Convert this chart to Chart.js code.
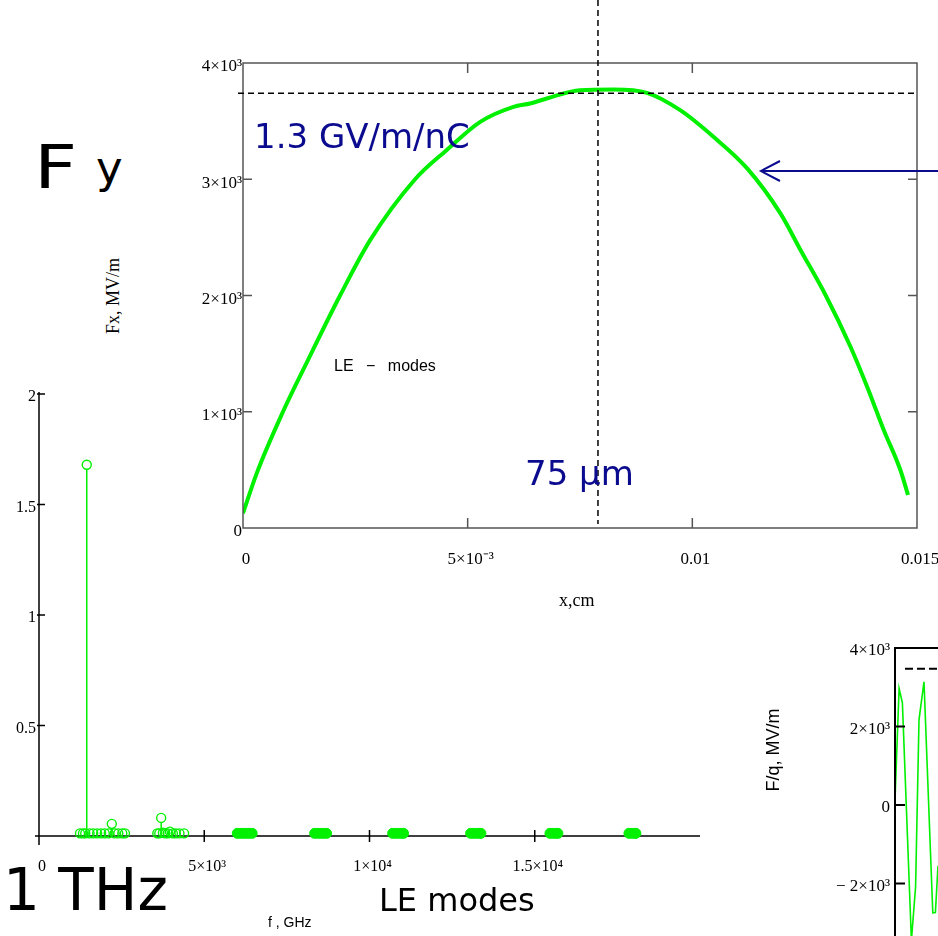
<!DOCTYPE html>
<html lang="en">
<head>
    <meta charset="UTF-8">
    <title>Fy wake, LE modes</title>
    <script src="https://cdn.jsdelivr.net/npm/chart.js"></script>
    <style>
        html, body { margin: 0; padding: 0; background: #fff; }
        body { width: 938px; height: 936px; position: relative; overflow: hidden; }
        canvas { position: absolute; }
        .t { position: absolute; white-space: nowrap; line-height: 1; }
        .navy { color: #0b0b8f; font-family: "DejaVu Sans"; font-size: 34px; }
        .big { font-family: "DejaVu Sans"; color: #000; }
        .serif { font-family: "Liberation Serif"; color: #000; }
        .sans { font-family: "Liberation Sans"; color: #000; }
    </style>
</head>
<body>
    <canvas id="modesChart" style="left:0;top:380px"></canvas>
    <canvas id="mainChart" style="left:180px;top:0"></canvas>
    <canvas id="wakeChart" style="left:760px;top:630px"></canvas>

    <div class="t big" style="left:34px;top:137px;font-size:60px;transform:scaleX(1.25);transform-origin:0 0">F</div>
    <div class="t big" style="left:96px;top:145px;font-size:45px">y</div>
    <div class="t navy" style="left:254px;top:119px">1.3 GV/m/nC</div>
    <div class="t navy" style="left:525px;top:456px">75 µm</div>
    <div class="t sans" style="left:334px;top:358px;font-size:16px;word-spacing:8px">LE − modes</div>
    <div class="t serif" style="left:113px;top:296px;font-size:18px;transform:translate(-50%,-50%) rotate(-90deg)">Fx, MV/m</div>
    <div class="t serif" style="left:559px;top:591px;font-size:18px">x,cm</div>
    <div class="t big" style="left:3px;top:861px;font-size:58px">1 THz</div>
    <div class="t big" style="left:379px;top:884px;font-size:32px">LE modes</div>
    <div class="t sans" style="left:268px;top:915px;font-size:14px">f , GHz</div>
    <div class="t sans" style="left:773px;top:750px;font-size:18px;transform:translate(-50%,-50%) rotate(-90deg)">F/q, MV/m</div>

    <svg style="position:absolute;left:0;top:0" width="938" height="936">
        <g stroke="#0b0b8f" stroke-width="2" fill="none">
            <line x1="940" y1="171" x2="761" y2="171"/>
            <polyline points="780,161 761,171 780,181"/>
        </g>
    </svg>

    <script>
        // ---- main plot: Fx across the gap ----
        var xCm = [0, 0.000305, 0.00089, 0.00141, 0.00216, 0.00283, 0.00383, 0.00453, 0.00528, 0.00602,
                   0.00639, 0.00676, 0.0075, 0.00825, 0.00899, 0.00973, 0.01047, 0.01122, 0.01196, 0.01241,
                   0.01297, 0.01352, 0.01389, 0.0141, 0.01426, 0.01463, 0.0148];
        var fxMV = [126, 470, 1000, 1416, 2000, 2476, 3000, 3250, 3494, 3623,
                    3652, 3695, 3766, 3772, 3743, 3594, 3365, 3093, 2706, 2390,
                    2000, 1559, 1215, 1004, 843, 499, 284];
        var peakLevel = 3740;
        var peakX = 0.0079;
        var mainXTicks = ['0', '5×10⁻³', '0.01', '0.015'];
        var mainYTicks = ['0', '1×10³', '2×10³', '3×10³', '4×10³'];

        // ---- lower left: LE mode spectrum ----
        var stemF = [1445, 2203, 3697];
        var stemA = [1.68, 0.055, 0.082];
        var lowF = [1240, 1330, 1400, 1530, 1640, 1760, 1880, 1990, 2110, 2290, 2400, 2520, 2600,
                    3580, 3640, 3750, 3820, 3900, 3960, 4050, 4140, 4250, 4390];
        var lowA = [0.012, 0.012, 0.012, 0.012, 0.012, 0.012, 0.012, 0.012, 0.012, 0.012, 0.012, 0.012, 0.012,
                    0.012, 0.012, 0.015, 0.012, 0.012, 0.02, 0.012, 0.012, 0.012, 0.012];
        var denseF = [6000, 6090, 6180, 6270, 6360, 6450, 8340, 8430, 8520, 8610, 8700,
                      10700, 10790, 10880, 10970, 11030, 13060, 13150, 13240, 13330, 13370,
                      15460, 15550, 15640, 15700, 17850, 17940, 18030, 18060];
        var denseA = [0.012, 0.012, 0.012, 0.012, 0.012, 0.012, 0.012, 0.012, 0.012, 0.012, 0.012,
                      0.012, 0.012, 0.012, 0.012, 0.012, 0.012, 0.012, 0.012, 0.012, 0.012,
                      0.012, 0.012, 0.012, 0.012, 0.012, 0.012, 0.012, 0.012];
        var modesXTicks = ['0', '5×10³', '1×10⁴', '1.5×10⁴', ''];
        var modesYTicks = ['', '0.5', '1', '1.5', '2'];

        // ---- lower right: wake F/q ----
        var wakeX = [0, 0.82, 1.48, 3.28, 4.12, 4.8, 5.8, 7.56, 8.08, 8.6];
        var wakeF = [120, 2970, 2600, -3450, -2080, 2170, 3140, -2750, -2740, -1550];
        var wakeLevel = 3470;
        var wakeYTicks = ['', '− 2×10³', '0', '2×10³', '4×10³'];

        var GREEN = 'rgb(0,240,0)';
        var serif = 'Liberation Serif';

        function pts(xs, ys) {
            return xs.map(function (x, i) { return { x: x, y: ys[i] }; });
        }

        function sizeCanvas(id, w, h) {
            var c = document.getElementById(id);
            c.width = w; c.height = h;
            c.style.width = w + 'px'; c.style.height = h + 'px';
            return c.getContext('2d');
        }

        // keep label overflow from moving the plot box
        function noPad(s) {
            s.paddingLeft = 0; s.paddingRight = 0; s.paddingTop = 0; s.paddingBottom = 0;
        }

        // Mathcad style frame with ticks pointing inwards, plus the dashed markers
        var mainFrame = {
            id: 'mainFrame',
            afterDatasetsDraw: function (chart) {
                var ctx = chart.ctx, a = chart.chartArea;
                var xs = chart.scales.x, ys = chart.scales.y;
                ctx.save();
                ctx.strokeStyle = '#555';
                ctx.lineWidth = 1.5;
                ctx.strokeRect(a.left, a.top, a.right - a.left, a.bottom - a.top);
                ctx.beginPath();
                xs.ticks.forEach(function (t, i) {
                    if (i === 0 || i === xs.ticks.length - 1) return;
                    var px = xs.getPixelForValue(t.value);
                    ctx.moveTo(px, a.bottom); ctx.lineTo(px, a.bottom - 10);
                    ctx.moveTo(px, a.top); ctx.lineTo(px, a.top + 10);
                });
                ys.ticks.forEach(function (t, i) {
                    if (i === 0 || i === ys.ticks.length - 1) return;
                    var py = ys.getPixelForValue(t.value);
                    ctx.moveTo(a.left, py); ctx.lineTo(a.left + 9, py);
                    ctx.moveTo(a.right, py); ctx.lineTo(a.right - 9, py);
                });
                ctx.stroke();
                // dashed markers
                ctx.strokeStyle = '#000';
                ctx.setLineDash([6, 4]);
                ctx.beginPath();
                var hy = ys.getPixelForValue(peakLevel);
                ctx.moveTo(a.left - 5, hy); ctx.lineTo(a.right, hy);
                var vx = xs.getPixelForValue(peakX);
                ctx.moveTo(vx, 0); ctx.lineTo(vx, a.bottom - 4);
                ctx.stroke();
                ctx.restore();
            }
        };

        new Chart(sizeCanvas('mainChart', 758, 620), {
            type: 'scatter',
            data: {
                datasets: [{
                    data: pts(xCm, fxMV),
                    showLine: true,
                    borderColor: GREEN,
                    borderWidth: 4,
                    pointRadius: 0,
                    cubicInterpolationMode: 'monotone'
                }]
            },
            options: {
                responsive: false,
                animation: false,
                layout: { padding: { left: 0, right: 21, top: 63, bottom: 0 } },
                plugins: { legend: { display: false }, tooltip: { enabled: false } },
                scales: {
                    x: {
                        type: 'linear', min: 0, max: 0.015,
                        afterFit: function (s) { s.height = 92; noPad(s); },
                        grid: { display: false, drawTicks: false },
                        border: { display: false },
                        ticks: {
                            stepSize: 0.005, padding: 21, labelOffset: 3, color: '#000',
                            font: { family: serif, size: 17 },
                            callback: function (v, i) { return mainXTicks[i]; }
                        }
                    },
                    y: {
                        min: 0, max: 4000,
                        afterFit: function (s) { s.width = 63; noPad(s); },
                        grid: { display: false, drawTicks: false },
                        border: { display: false },
                        ticks: {
                            stepSize: 1000, padding: 1, labelOffset: 4, color: '#000',
                            font: { family: serif, size: 17 },
                            callback: function (v, i) { return mainYTicks[i]; }
                        }
                    }
                }
            },
            plugins: [mainFrame]
        });

        // stems + crossing axes for the spectrum
        var modesAxes = {
            id: 'modesAxes',
            beforeDatasetsDraw: function (chart) {
                var ctx = chart.ctx, a = chart.chartArea;
                var xs = chart.scales.x, ys = chart.scales.y;
                ctx.save();
                ctx.strokeStyle = '#000';
                ctx.lineWidth = 1.5;
                ctx.beginPath();
                ctx.moveTo(a.left, a.top - 2); ctx.lineTo(a.left, a.bottom + 9);
                ctx.moveTo(a.left - 4, a.bottom); ctx.lineTo(a.right, a.bottom);
                ys.ticks.forEach(function (t, i) {
                    if (i === 0) return;
                    var py = ys.getPixelForValue(t.value);
                    ctx.moveTo(a.left - 2, py); ctx.lineTo(a.left + 6, py);
                });
                xs.ticks.forEach(function (t, i) {
                    if (i === xs.ticks.length - 1) return;
                    var px = xs.getPixelForValue(t.value);
                    ctx.moveTo(px, a.bottom - 6); ctx.lineTo(px, a.bottom + 6);
                });
                ctx.stroke();
                // stems
                ctx.strokeStyle = GREEN;
                ctx.lineWidth = 1.5;
                ctx.beginPath();
                var y0 = ys.getPixelForValue(0);
                stemF.forEach(function (f, i) {
                    var px = xs.getPixelForValue(f);
                    ctx.moveTo(px, y0);
                    ctx.lineTo(px, ys.getPixelForValue(stemA[i]) + 4.5);
                });
                ctx.stroke();
                ctx.restore();
            }
        };

        new Chart(sizeCanvas('modesChart', 720, 556), {
            type: 'scatter',
            data: {
                datasets: [{
                    data: pts(stemF, stemA),
                    pointRadius: 4.5, pointBorderWidth: 1.4,
                    borderColor: GREEN, backgroundColor: 'rgba(0,0,0,0)',
                    clip: false
                }, {
                    data: pts(lowF, lowA),
                    pointRadius: 4.5, pointBorderWidth: 1.4,
                    borderColor: GREEN, backgroundColor: 'rgba(0,0,0,0)',
                    clip: false
                }, {
                    data: pts(denseF, denseA),
                    pointRadius: 5, pointBorderWidth: 1,
                    borderColor: GREEN, backgroundColor: GREEN,
                    clip: false
                }]
            },
            options: {
                responsive: false,
                animation: false,
                layout: { padding: { left: 0, right: 20, top: 14, bottom: 0 } },
                plugins: { legend: { display: false }, tooltip: { enabled: false } },
                scales: {
                    x: {
                        type: 'linear', min: 0, max: 20000,
                        afterFit: function (s) { s.height = 100; noPad(s); },
                        grid: { display: false, drawTicks: false },
                        border: { display: false },
                        ticks: {
                            stepSize: 5000, padding: 21, labelOffset: 3, color: '#000',
                            font: { family: serif, size: 16 },
                            callback: function (v, i) { return modesXTicks[i]; }
                        }
                    },
                    y: {
                        min: 0, max: 2,
                        afterFit: function (s) { s.width = 39; noPad(s); },
                        grid: { display: false, drawTicks: false },
                        border: { display: false },
                        ticks: {
                            stepSize: 0.5, padding: 3, labelOffset: 3, color: '#000',
                            font: { family: serif, size: 16 },
                            callback: function (v, i) { return modesYTicks[i]; }
                        }
                    }
                }
            },
            plugins: [modesAxes]
        });

        // wake potential, only its left edge is inside the slide
        var wakeFrame = {
            id: 'wakeFrame',
            afterDatasetsDraw: function (chart) {
                var ctx = chart.ctx, a = chart.chartArea;
                var xs = chart.scales.x, ys = chart.scales.y;
                ctx.save();
                ctx.strokeStyle = '#000';
                ctx.lineWidth = 2;
                ctx.beginPath();
                ctx.moveTo(a.left, a.bottom); ctx.lineTo(a.left, a.top); ctx.lineTo(a.right, a.top);
                ys.ticks.forEach(function (t) {
                    if (t.value >= 4000) return;
                    var py = ys.getPixelForValue(t.value);
                    ctx.moveTo(a.left, py); ctx.lineTo(a.left + 10, py);
                });
                ctx.stroke();
                ctx.setLineDash([8, 4]);
                ctx.beginPath();
                var hy = ys.getPixelForValue(wakeLevel);
                ctx.moveTo(xs.getPixelForValue(2), hy); ctx.lineTo(a.right, hy);
                ctx.stroke();
                ctx.restore();
            }
        };

        // canvas runs below the slide edge so that -4000 sits under the bottom
        new Chart(sizeCanvas('wakeChart', 178, 332), {
            type: 'scatter',
            data: {
                datasets: [{
                    data: pts(wakeX, wakeF),
                    showLine: true,
                    borderColor: GREEN,
                    borderWidth: 1.6,
                    pointRadius: 0,
                    tension: 0
                }]
            },
            options: {
                responsive: false,
                animation: false,
                layout: { padding: { left: 0, right: 0, top: 18, bottom: 0 } },
                plugins: { legend: { display: false }, tooltip: { enabled: false } },
                scales: {
                    x: { type: 'linear', min: 0, max: 8.6, display: false },
                    y: {
                        min: -4000, max: 4000,
                        afterFit: function (s) { s.width = 135; noPad(s); },
                        grid: { display: false, drawTicks: false },
                        border: { display: false },
                        ticks: {
                            stepSize: 2000, padding: 5, labelOffset: 3, color: '#000',
                            font: { family: serif, size: 17 },
                            callback: function (v, i) { return wakeYTicks[i]; }
                        }
                    }
                }
            },
            plugins: [wakeFrame]
        });
    </script>
</body>
</html>
